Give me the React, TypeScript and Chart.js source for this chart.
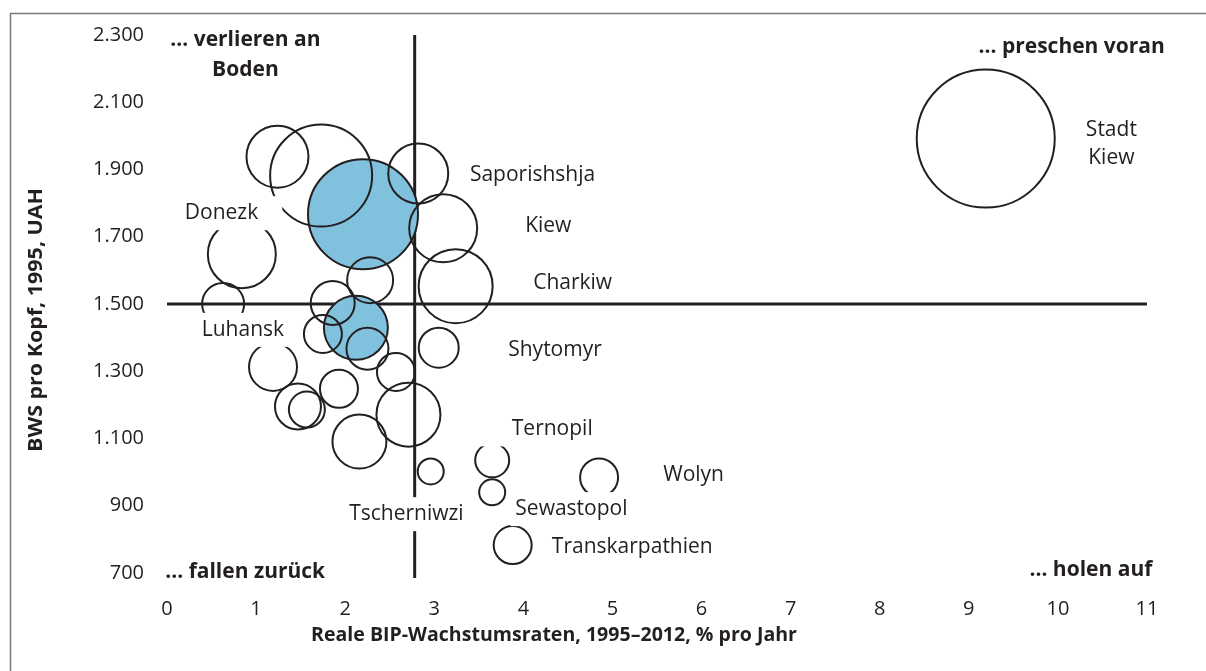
import React, { useEffect, useRef } from 'react';
import { Chart, registerables } from 'chart.js';

Chart.register(...registerables);

// ---- data ----
const xTickValues = [0, 1, 2, 3, 4, 5, 6, 7, 8, 9, 10, 11];
const xTickLabels = ['0', '1', '2', '3', '4', '5', '6', '7', '8', '9', '10', '11'];
const yTickValues = [700, 900, 1100, 1300, 1500, 1700, 1900, 2100, 2300];
const yTickLabels = ['700', '900', '1.100', '1.300', '1.500', '1.700', '1.900', '2.100', '2.300'];

// real GDP growth 1995–2012, % p.a.
const growthRates = [1.24, 1.73, 2.2, 2.82, 3.1, 3.24, 2.28, 0.84, 0.63, 1.86, 2.12, 1.75, 2.25, 1.19, 3.05, 2.57, 1.93, 1.47, 1.57, 2.71, 2.16, 2.96, 3.65, 3.65, 4.85, 3.88, 9.19];
// GVA per capita 1995, UAH
const gvaPerCapita = [1938, 1882, 1767, 1888, 1725, 1553, 1571, 1648, 1500, 1503, 1429, 1411, 1367, 1313, 1370, 1298, 1248, 1195, 1186, 1171, 1091, 1002, 1035, 940, 984, 783, 1992];
// bubble size
const bubbleRadii = [31, 51, 55, 30, 34, 37, 23, 34, 21, 22, 32, 19, 21, 24, 20, 19, 19, 23, 18, 32, 27, 13, 17, 13, 19, 19, 69];
// highlighted regions (blue)
const highlighted = [false, false, true, false, false, false, false, false, false, false, true, false, false, false, false, false, false, false, false, false, false, false, false, false, false, false, false];

const averageGrowth = 2.78;
const averageGva = 1500;

const xAxisTitle = 'Reale BIP-Wachstumsraten, 1995–2012, % pro Jahr';
const yAxisTitle = 'BWS pro Kopf, 1995, UAH';

// region labels (anchored in data coordinates)
const regionLabels = [
  { text: 'Saporishshja', x: 3.40, y: 1885, align: 'left' },
  { text: 'Kiew', x: 4.02, y: 1731, align: 'left' },
  { text: 'Charkiw', x: 4.11, y: 1562, align: 'left' },
  { text: 'Shytomyr', x: 3.83, y: 1364, align: 'left' },
  { text: 'Ternopil', x: 3.87, y: 1127, align: 'left', padL: 34 },
  { text: 'Wolyn', x: 5.57, y: 990, align: 'left' },
  { text: 'Tscherniwzi', x: 3.33, y: 875, align: 'right' },
  { text: 'Sewastopol', x: 3.91, y: 890, align: 'left' },
  { text: 'Transkarpathien', x: 4.32, y: 777, align: 'left' },
  { text: 'Donezk', x: 0.20, y: 1770, align: 'left', padR: 24 },
  { text: 'Luhansk', x: 0.39, y: 1423, align: 'left' },
  { text: 'Stadt', x: 10.6, y: 2016, align: 'center' },
  { text: 'Kiew', x: 10.6, y: 1933, align: 'center' },
];

const quadrantLabels = [
  { text: '… verlieren an', x: 0.88, y: 2285, align: 'center' },
  { text: 'Boden', x: 0.88, y: 2196, align: 'center' },
  { text: '... preschen voran', x: 11.2, y: 2264, align: 'right' },
  { text: '… fallen zurück', x: -0.02, y: 703, align: 'left' },
  { text: '… holen auf', x: 11.06, y: 709, align: 'right' },
];

const INK = '#231f20';
const BLUE = '#80c1de';
const FONT = "'Open Sans', 'Noto Sans', sans-serif";

function drawText(ctx: CanvasRenderingContext2D, text: string, x: number, y: number, font: string, align: string, fitWidth?: number) {
  ctx.save();
  ctx.font = font;
  ctx.textBaseline = 'middle';
  ctx.textAlign = 'left';
  const w = ctx.measureText(text).width;
  const s = fitWidth ? fitWidth / w : 1;
  const ww = w * s;
  const left = align === 'left' ? x : align === 'right' ? x - ww : x - ww / 2;
  ctx.translate(left, y);
  ctx.scale(s, 1);
  ctx.fillStyle = INK;
  ctx.fillText(text, 0, 0);
  ctx.restore();
}

const decorPlugin = {
  id: 'decor',
  beforeDraw(chart: any) {
    const ctx = chart.ctx as CanvasRenderingContext2D;
    ctx.save();
    ctx.fillStyle = '#ffffff';
    ctx.fillRect(0, 0, chart.width, chart.height);
    // frame
    ctx.strokeStyle = '#7a7a7a';
    ctx.lineWidth = 1.5;
    ctx.beginPath();
    ctx.moveTo(10.5, chart.height);
    ctx.lineTo(10.5, 13.5);
    ctx.lineTo(chart.width, 13.5);
    ctx.stroke();
    ctx.restore();
  },
  beforeDatasetsDraw(chart: any) {
    const ctx = chart.ctx as CanvasRenderingContext2D;
    const xs = chart.scales.x;
    const ys = chart.scales.y;
    ctx.save();
    ctx.strokeStyle = INK;
    ctx.lineWidth = 3;
    const vx = xs.getPixelForValue(averageGrowth);
    ctx.beginPath();
    ctx.moveTo(vx, chart.chartArea.top);
    ctx.lineTo(vx, chart.chartArea.bottom + 5);
    ctx.stroke();
    const hy = ys.getPixelForValue(averageGva);
    ctx.beginPath();
    ctx.moveTo(xs.getPixelForValue(0), hy);
    ctx.lineTo(xs.getPixelForValue(11), hy);
    ctx.stroke();
    ctx.restore();
  },
  afterDatasetsDraw(chart: any) {
    const ctx = chart.ctx as CanvasRenderingContext2D;
    const xs = chart.scales.x;
    const ys = chart.scales.y;
    const regFont = `21px ${FONT}`;
    const boldFont = `bold 21px ${FONT}`;
    // region labels with white boxes
    regionLabels.forEach((l: any) => {
      const px = xs.getPixelForValue(l.x);
      const py = ys.getPixelForValue(l.y);
      ctx.save();
      ctx.font = regFont;
      const w = ctx.measureText(l.text).width;
      const left = l.align === 'left' ? px : l.align === 'right' ? px - w : px - w / 2;
      const padL = l.padL ?? 5;
      const padR = l.padR ?? 5;
      ctx.fillStyle = '#ffffff';
      ctx.fillRect(left - padL, py - 17, w + padL + padR, 34);
      ctx.restore();
      drawText(ctx, l.text, px, py, regFont, l.align);
    });
    quadrantLabels.forEach((l) => {
      drawText(ctx, l.text, xs.getPixelForValue(l.x), ys.getPixelForValue(l.y), boldFont, l.align);
    });
    // axis titles
    drawText(ctx, xAxisTitle, 311, 636, `bold 19px ${FONT}`, 'left', 486);
    ctx.save();
    ctx.translate(37, 320);
    ctx.rotate(-Math.PI / 2);
    drawText(ctx, yAxisTitle, 0, 0, `bold 19px ${FONT}`, 'center', 264);
    ctx.restore();
  },
};

export default function App() {
  const canvasRef = useRef<HTMLCanvasElement | null>(null);

  useEffect(() => {
    document.body.style.margin = '0';
    const canvas = canvasRef.current;
    if (!canvas) return;

    const plainPoints: any[] = [];
    const bluePoints: any[] = [];
    growthRates.forEach((g, i) => {
      const p = { x: g, y: gvaPerCapita[i], r: bubbleRadii[i] };
      if (highlighted[i]) bluePoints.push(p);
      else plainPoints.push(p);
    });

    const chart = new Chart(canvas, {
      type: 'bubble',
      data: {
        datasets: [
          {
            label: 'Regionen',
            data: plainPoints,
            backgroundColor: 'rgba(0,0,0,0)',
            borderColor: INK,
            borderWidth: 2,
            clip: false,
          } as any,
          {
            label: 'Hervorgehoben',
            data: bluePoints,
            backgroundColor: BLUE,
            borderColor: INK,
            borderWidth: 2,
            clip: false,
          } as any,
        ],
      },
      options: {
        responsive: false,
        animation: false,
        devicePixelRatio: 1,
        events: [],
        layout: { autoPadding: false, padding: { left: 0, top: 33, right: 59, bottom: 0 } },
        plugins: {
          legend: { display: false },
          tooltip: { enabled: false },
          title: { display: false },
        },
        scales: {
          x: {
            type: 'linear',
            min: 0,
            max: 11,
            grid: { display: false, drawTicks: false },
            border: { display: false },
            ticks: {
              font: { family: FONT, size: 20 },
              color: INK,
              padding: 24,
              maxRotation: 0,
              autoSkip: false,
              callback: (v: any) => {
                const i = xTickValues.indexOf(Number(v));
                return i >= 0 ? xTickLabels[i] : '';
              },
            },
            afterBuildTicks: (s: any) => {
              s.ticks = xTickValues.map((v) => ({ value: v }));
            },
            afterFit: (s: any) => {
              s.height = 98;
            },
          },
          y: {
            type: 'linear',
            min: 700,
            max: 2300,
            grid: { display: false, drawTicks: false },
            border: { display: false },
            ticks: {
              font: { family: FONT, size: 20 },
              color: INK,
              padding: 23,
              autoSkip: false,
              callback: (v: any) => {
                const i = yTickValues.indexOf(Number(v));
                return i >= 0 ? yTickLabels[i] : '';
              },
            },
            afterBuildTicks: (s: any) => {
              s.ticks = yTickValues.map((v) => ({ value: v }));
            },
            afterFit: (s: any) => {
              s.width = 167;
            },
          },
        },
      } as any,
      plugins: [decorPlugin],
    });

    return () => {
      chart.destroy();
    };
  }, []);

  return (
    <div style={{ width: 1206, height: 671 }}>
      <canvas ref={canvasRef} width={1206} height={671} style={{ display: 'block' }} />
    </div>
  );
}
